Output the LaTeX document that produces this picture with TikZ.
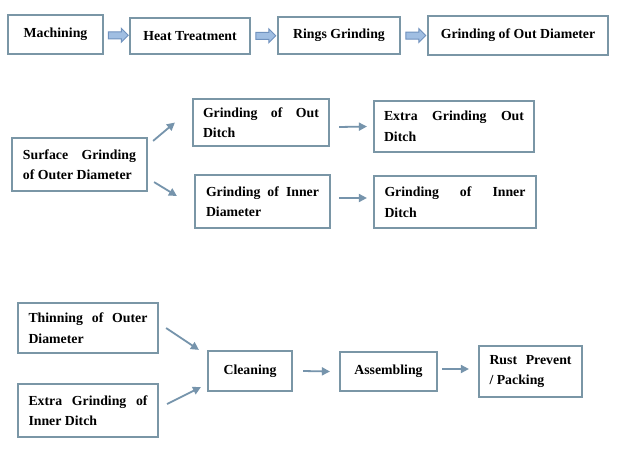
\documentclass[tikz,border=0pt]{standalone}
\usepackage{fontspec}
\setmainfont{Liberation Serif}
\usetikzlibrary{arrows.meta,shapes.arrows,calc}
\definecolor{boxline}{RGB}{122,150,166}
\definecolor{linkline}{RGB}{118,148,172}
\definecolor{arrowfill}{RGB}{160,190,226}
\definecolor{arrowline}{RGB}{112,146,190}

\begin{document}
\begin{tikzpicture}[x=1pt,y=-1pt,
    stage/.style={draw=boxline,line width=2.2pt,inner sep=0pt,fill=white,
        font=\fontsize{13.8}{20.5}\selectfont\bfseries},
    twoline/.style={stage,align=justify},
    link/.style={draw=linkline,line width=1.8pt,-{Triangle[length=8pt,width=8pt]}},
    bigarrow/.style={single arrow,draw=arrowline,fill=arrowfill,line width=1pt,
        inner sep=3pt,single arrow head extend=3.5pt,minimum height=20pt},
    ]
    \fill[white] (0,0) rectangle (626,453);
    \useasboundingbox (0,0) rectangle (626,453);
    \node[stage,minimum width=95pt,minimum height=39pt] (mach) at (55.5,34.5) {Machining};
    \node[stage,minimum width=120pt,minimum height=36pt] (heat) at (190,36) {Heat Treatment};
    \node[stage,minimum width=122pt,minimum height=37pt] (rings) at (339,35.5) {Rings Grinding};
    \node[stage,minimum width=180pt,minimum height=39pt] (outd) at (518,35.5) {Grinding of Out Diameter};
    \node[bigarrow] (a1) at ($(mach.east)!.5!(heat.west)$) {};
    \node[bigarrow] (a2) at ($(heat.east)!.5!(rings.west)$) {};
    \node[bigarrow] (a3) at ($(rings.east)!.5!(outd.west)$) {};

    \node[twoline,text width=113pt,minimum width=135pt,minimum height=53pt] (surf) at (79.5,164.5) {Surface Grinding\linebreak of Outer Diameter};
    \node[twoline,text width=116pt,minimum width=136pt,minimum height=47pt] (gout) at (261,122.5) {Grinding of Out\linebreak Ditch};
    \node[twoline,text width=113pt,minimum width=135pt,minimum height=53pt] (ginn) at (262.5,201.5) {Grinding of Inner\linebreak Diameter};
    \node[twoline,text width=140pt,minimum width=160pt,minimum height=51pt] (xout) at (454,126.5) {Extra Grinding Out\linebreak Ditch};
    \node[twoline,text width=141pt,minimum width=162pt,minimum height=52pt] (gind) at (455,202) {Grinding of Inner\linebreak Ditch};
    \draw[link] ([shift={(5,4)}]surf.north east) -- ([xshift=-17pt]gout.west);
    \draw[link] ([shift={(6,-10)}]surf.south east) -- ([shift={(-17,-5.5)}]ginn.west);
    \draw[link] ([shift={(9,4.5)}]gout.east) -- ([xshift=-6pt]xout.west);
    \draw[link] ([shift={(8,-3.5)}]ginn.east) -- ([shift={(-6,-4)}]gind.west);

    \node[twoline,text width=119pt,minimum width=140pt,minimum height=50pt] (thin) at (88,328) {Thinning of Outer\linebreak Diameter};
    \node[twoline,text width=119pt,minimum width=140pt,minimum height=53pt] (xinn) at (88,410.5) {Extra Grinding of\linebreak Inner Ditch};
    \node[stage,minimum width=84pt,minimum height=40pt] (clean) at (250,371) {Cleaning};
    \node[stage,minimum width=97pt,minimum height=39pt] (assem) at (388.5,371.5) {Assembling};
    \node[twoline,text width=82pt,minimum width=103pt,minimum height=51pt] (rust) at (530.5,371.5) {Rust Prevent\linebreak / Packing};
    \draw[link] ([xshift=7pt]thin.east) -- ([xshift=-8pt]clean.north west);
    \draw[link] ([shift={(8,-6.5)}]xinn.east) -- ([shift={(-6,-5)}]clean.south west);
    \draw[link] ([xshift=10pt]clean.east) -- ([xshift=-9pt]assem.west);
    \draw[link] ([shift={(4,-2.5)}]assem.east) -- ([shift={(-9,-2.5)}]rust.west);
\end{tikzpicture}
\end{document}
